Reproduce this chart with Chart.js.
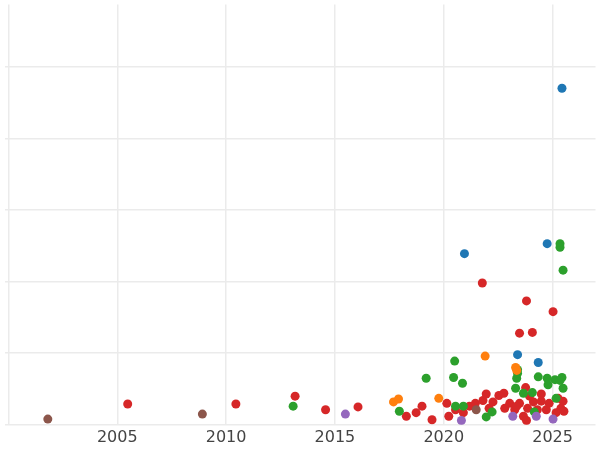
<!DOCTYPE html>
<html><head><meta charset="utf-8">
<script src="https://cdn.jsdelivr.net/npm/chart.js@4"></script>
<style>html,body{margin:0;padding:0;background:#fff}#wrap{width:600px;height:450px}</style>
</head><body><div id="wrap"><canvas id="c"></canvas></div>
<script>
var yearTicks = [2000, 2005, 2010, 2015, 2020, 2025];

var brownX = [2001.81, 2008.91, 2021.49];
var brownY = [0.08, 0.15, 0.21];
var redX = [2005.48, 2010.45, 2013.17, 2014.57, 2016.06, 2018.28, 2018.73, 2019.0, 2019.46, 2020.14, 2020.23, 2020.54, 2020.9, 2021.18, 2021.45, 2021.77, 2021.8, 2021.95, 2022.08, 2022.26, 2022.53, 2022.76, 2022.8, 2023.03, 2023.26, 2023.48, 2023.48, 2023.66, 2023.76, 2023.8, 2023.85, 2023.94, 2024.07, 2024.12, 2024.3, 2024.48, 2024.71, 2024.84, 2025.02, 2025.16, 2025.25, 2025.38, 2025.48, 2025.52, 2023.8, 2023.35, 2024.48];
var redY = [0.29, 0.29, 0.40, 0.21, 0.25, 0.12, 0.17, 0.26, 0.07, 0.30, 0.12, 0.21, 0.17, 0.26, 0.30, 1.98, 0.34, 0.43, 0.23, 0.32, 0.41, 0.44, 0.23, 0.30, 0.21, 1.28, 0.30, 0.12, 0.52, 1.73, 0.23, 0.40, 1.29, 0.32, 0.21, 0.33, 0.21, 0.30, 1.58, 0.17, 0.37, 0.23, 0.33, 0.19, 0.06, 0.26, 0.43];
var greenX = [2013.08, 2017.96, 2019.19, 2020.5, 2020.45, 2020.86, 2020.54, 2020.9, 2021.95, 2022.22, 2023.3, 2023.35, 2023.39, 2023.39, 2023.66, 2024.07, 2024.34, 2024.75, 2024.79, 2025.11, 2025.34, 2025.43, 2025.48, 2025.34, 2025.34, 2025.48, 2025.16, 2024.16];
var greenY = [0.26, 0.19, 0.65, 0.89, 0.66, 0.58, 0.26, 0.26, 0.11, 0.18, 0.51, 0.65, 0.77, 0.72, 0.44, 0.45, 0.67, 0.65, 0.56, 0.63, 0.62, 0.66, 0.51, 2.53, 2.48, 2.16, 0.37, 0.18];
var orangeX = [2017.69, 2017.92, 2019.77, 2021.9, 2023.3, 2023.35];
var orangeY = [0.32, 0.36, 0.37, 0.96, 0.80, 0.76];
var blueX = [2025.43, 2020.95, 2024.75, 2023.39, 2024.34];
var blueY = [4.70, 2.39, 2.53, 0.98, 0.87];
var purpleX = [2015.48, 2020.81, 2023.17, 2024.25, 2025.02];
var purpleY = [0.15, 0.06, 0.12, 0.12, 0.08];

function pts(xs, ys) { return xs.map(function (x, i) { return { x: x, y: ys[i] }; }); }
function ds(xs, ys, color) {
  return { data: pts(xs, ys), backgroundColor: color, borderColor: color, pointRadius: 4.5, pointHoverRadius: 4.5, borderWidth: 0 };
}

new Chart(document.getElementById('c'), {
  type: 'scatter',
  data: {
    datasets: [
      ds(brownX, brownY, '#8c564b'),
      ds(purpleX, purpleY, '#9467bd'),
      ds(orangeX, orangeY, '#ff7f0e'),
      ds(greenX, greenY, '#2ca02c'),
      ds(redX, redY, '#d62728'),
      ds(blueX, blueY, '#1f77b4')
    ]
  },
  options: {
    responsive: true,
    maintainAspectRatio: false,
    animation: false,
    layout: { padding: { top: -6, right: -4, left: 0, bottom: 0 } },
    plugins: { legend: { display: false }, tooltip: { enabled: false } },
    scales: {
      x: {
        type: 'linear',
        min: 1999.82, max: 2026.97,
        afterBuildTicks: function (axis) { axis.ticks = yearTicks.map(function (v) { return { value: v }; }); },
        grid: { color: '#ebebeb', lineWidth: 1.5, drawTicks: false },
        border: { display: false },
        ticks: { color: '#444', font: { family: 'DejaVu Sans', size: 16 }, padding: 3, maxRotation: 0,
          callback: function (v) { return v === 2000 ? '' : String(v); } }
      },
      y: {
        min: 0, max: 5.87,
        afterBuildTicks: function (axis) { axis.ticks = [0, 1, 2, 3, 4, 5].map(function (v) { return { value: v }; }); },
        grid: { color: '#ebebeb', lineWidth: 1.5, drawTicks: false },
        border: { display: false },
        ticks: { display: false }
      }
    }
  }
});
</script></body></html>
